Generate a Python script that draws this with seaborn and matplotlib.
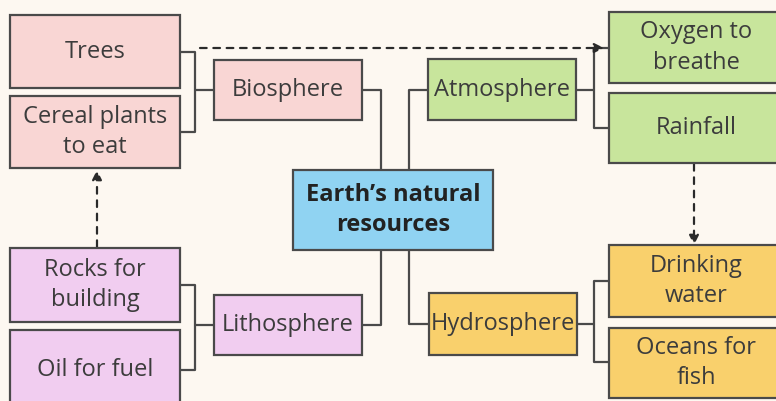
import matplotlib
matplotlib.use("Agg")
from matplotlib import pyplot as plt
from matplotlib.patches import Rectangle
import seaborn as sns

# labels of the diagram
centre_label = "Earth\u2019s natural\nresources"
sphere_labels = ["Biosphere", "Atmosphere", "Lithosphere", "Hydrosphere"]
resource_labels = [
    ["Trees", "Cereal plants\nto eat"],
    ["Oxygen to\nbreathe", "Rainfall"],
    ["Rocks for\nbuilding", "Oil for fuel"],
    ["Drinking\nwater", "Oceans for\nfish"],
]

# layout (pixels, origin top-left)
centre_box = (293, 170, 200, 80)
sphere_boxes = [(214, 60, 148, 60), (428, 59, 148, 61), (214, 295, 148, 60), (429, 293, 148, 62)]
resource_boxes = [
    [(10, 15, 170, 73), (10, 96, 170, 72)],
    [(609, 12, 175, 71), (609, 93, 175, 70)],
    [(10, 248, 170, 74), (10, 330, 170, 80)],
    [(609, 245, 175, 72), (609, 328, 175, 70)],
]
fills = ["#f9d6d4", "#c8e59c", "#f1cdf0", "#f9d06c"]
centre_fill = "#90d3f2"
edge = "#4a4a4a"
text_col = "#3c3c3c"

sns.set_theme(style="white")
plt.rcParams["font.family"] = ["Open Sans", "DejaVu Sans"]

fig = plt.figure(figsize=(7.76, 4.01), dpi=100)
fig.patch.set_facecolor("#fdf8f1")
ax = fig.add_axes([0, 0, 1, 1])
ax.set_xlim(0, 776)
ax.set_ylim(401, 0)
ax.axis("off")


def box(rect, fill, label, bold=False, size=17, color=text_col):
    x, y, w, h = rect
    ax.add_patch(Rectangle((x, y), w, h, facecolor=fill, edgecolor=edge, lw=1.6, zorder=2))
    ax.text(x + w / 2, y + h / 2, label, ha="center", va="center", color=color,
            fontsize=size, fontweight="bold" if bold else "normal", linespacing=1.35, zorder=3)


def line(xs, ys, **kw):
    ax.plot(xs, ys, color=edge, lw=1.6, solid_capstyle="butt", zorder=1, **kw)


box(centre_box, centre_fill, centre_label, bold=True, size=17, color="#222222")
for i in range(4):
    box(sphere_boxes[i], fills[i], sphere_labels[i])
    for j in range(2):
        box(resource_boxes[i][j], fills[i], resource_labels[i][j])

# connectors from centre to spheres
cx0, cx1 = 381, 409
ctop = centre_box[1]
cbot = centre_box[1] + centre_box[3]
# biosphere (left top)
sx, sy, sw, sh = sphere_boxes[0]
line([sx + sw, cx0, cx0], [sy + sh / 2, sy + sh / 2, ctop])
# atmosphere (right top)
sx, sy, sw, sh = sphere_boxes[1]
line([cx1, cx1, sx], [ctop, sy + sh / 2, sy + sh / 2])
# lithosphere (left bottom)
sx, sy, sw, sh = sphere_boxes[2]
line([sx + sw, cx0, cx0], [sy + sh / 2, sy + sh / 2, cbot])
# hydrosphere (right bottom)
sx, sy, sw, sh = sphere_boxes[3]
line([cx1, cx1, sx], [cbot, sy + sh / 2, sy + sh / 2])

# brackets from spheres to resources
for i in range(4):
    sx, sy, sw, sh = sphere_boxes[i]
    a, b = resource_boxes[i]
    ya = a[1] + a[3] / 2
    yb = b[1] + b[3] / 2
    if i in (0, 2):
        bx = 195
        edge_x = a[0] + a[2]
        line([edge_x, bx, bx, edge_x], [ya, ya, yb, yb])
        line([bx, sx], [sy + sh / 2, sy + sh / 2])
    else:
        bx = 594
        edge_x = a[0]
        if i == 3:
            ya, yb = a[1] + 36, b[1] + 34
        line([edge_x, bx, bx, edge_x], [ya, ya, yb, yb])
        line([sx + sw, bx], [sy + sh / 2, sy + sh / 2])

# dashed arrows
arrow = dict(arrowstyle="-|>", color="#2a2a2a", lw=1.6, linestyle=(0, (3, 3)),
             mutation_scale=14, shrinkA=0, shrinkB=0)
ax.annotate("", xy=(604, 48), xytext=(200, 48), arrowprops=arrow, zorder=1)
ax.annotate("", xy=(694, 245), xytext=(694, 164), arrowprops=arrow, zorder=1)
ax.annotate("", xy=(97, 170), xytext=(97, 247), arrowprops=arrow, zorder=1)

plt.savefig("out.png", dpi=100, facecolor=fig.get_facecolor())
